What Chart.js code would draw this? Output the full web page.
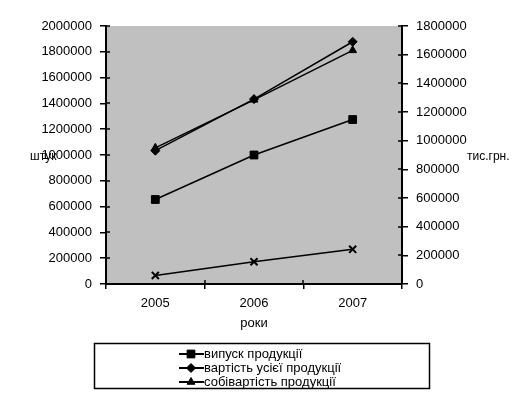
<!DOCTYPE html>
<html>
<head>
<meta charset="utf-8">
<script src="https://cdn.jsdelivr.net/npm/chart.js@4/dist/chart.umd.min.js"></script>
<style>
  body { margin: 0; background: #fff; }
  #wrap { width: 521px; height: 396px; }
</style>
</head>
<body>
<div id="wrap"><canvas id="myChart" width="521" height="396"></canvas></div>
<script>
// роки
const years = ['2005', '2006', '2007']
// штук (ліва вісь)
const output = [655000, 1000000, 1275000]
// тис.грн. (права вісь)
const totalValue = [930000, 1290000, 1690000]
const costValue = [950000, 1285000, 1630000]
const fourthSeries = [60000, 155000, 242000]

const seriesNames = ['випуск продукції', 'вартість усієї продукції', 'собівартість продукції', 'ряд 4']
const leftTitle = 'штук'
const rightTitle = 'тис.грн.'
const xTitle = 'роки'

const FONT = 'Liberation Sans, Arial, sans-serif'
Chart.defaults.font.family = FONT
Chart.defaults.font.size = 13
Chart.defaults.color = '#000'

function line(label, data, axis, style, r) {
  return {
    label: label,
    data: data,
    yAxisID: axis,
    borderColor: '#000',
    backgroundColor: '#000',
    borderWidth: 1.5,
    pointStyle: style,
    pointRadius: r,
    pointBorderWidth: style == 'crossRot' ? 2 : 1,
    tension: 0
  }
}

// gray plot area
const plotBg = {
  id: 'plotBg',
  beforeDraw(chart) {
    const a = chart.chartArea
    const ctx = chart.ctx
    ctx.save()
    ctx.fillStyle = '#c0c0c0'
    ctx.fillRect(a.left, a.top, a.right - a.left, a.bottom - a.top)
    ctx.restore()
  }
}

// inner half of the cross tick marks + horizontal axis titles + legend box
const extras = {
  id: 'extras',
  afterDraw(chart) {
    const ctx = chart.ctx
    const a = chart.chartArea
    ctx.save()
    ctx.strokeStyle = '#000'
    ctx.lineWidth = 1.5
    const yl = chart.scales.y, yr = chart.scales.y1, x = chart.scales.x
    ctx.beginPath()
    yl.ticks.forEach((t, i) => {
      const p = Math.round(yl.getPixelForTick(i))
      ctx.moveTo(a.left, p); ctx.lineTo(a.left + 4, p)
    })
    yr.ticks.forEach((t, i) => {
      const p = Math.round(yr.getPixelForTick(i))
      ctx.moveTo(a.right, p); ctx.lineTo(a.right - 4, p)
    })
    for (let i = 0; i <= years.length; i++) {
      const p = Math.round(x.getPixelForValue(i - 0.5))
      ctx.moveTo(p, a.bottom); ctx.lineTo(p, a.bottom - 4)
    }
    ctx.stroke()

    ctx.fillStyle = '#000'
    ctx.font = '12px ' + FONT
    ctx.textBaseline = 'middle'
    ctx.textAlign = 'left'
    ctx.fillText(leftTitle, 30, 157)
    ctx.fillText(rightTitle, 467, 157)

    // legend
    ctx.font = '13px ' + FONT
    ctx.lineWidth = 1.5
    ctx.strokeRect(94.5, 343.5, 335, 45)
    for (let i = 0; i < 3; i++) {
      const ds = chart.data.datasets[i]
      const y = 354 + i * 14
      ctx.beginPath()
      ctx.lineWidth = 2
      ctx.moveTo(179, y); ctx.lineTo(204, y)
      ctx.stroke()
      ctx.lineWidth = 1
      Chart.helpers.drawPoint(ctx, { pointStyle: ds.pointStyle, radius: ds.pointRadius, borderWidth: 1, rotation: 0 }, 191, y)
      ctx.fillText(ds.label, 204, y)
    }
    ctx.restore()
  }
}

const plain = v => String(v)

new Chart(document.getElementById('myChart').getContext('2d'), {
  type: 'line',
  data: {
    labels: years,
    datasets: [
      line(seriesNames[0], output, 'y', 'rect', 5.5),
      line(seriesNames[1], totalValue, 'y1', 'rectRot', 4.5),
      line(seriesNames[2], costValue, 'y1', 'triangle', 4.5),
      line(seriesNames[3], fourthSeries, 'y1', 'crossRot', 5)
    ]
  },
  options: {
    responsive: false,
    animation: false,
    layout: { padding: { top: 26, bottom: 61, left: 0, right: 0 } },
    plugins: { legend: { display: false }, tooltip: { enabled: false } },
    scales: {
      x: {
        offset: true,
        grid: { offset: true, drawOnChartArea: false, color: '#000', lineWidth: 1.5, tickLength: 5 },
        border: { color: '#000', width: 2 },
        ticks: { padding: 7, maxRotation: 0 },
        title: { display: true, text: xTitle, padding: { top: 0, bottom: 4 } },
        afterFit(s) { s.height = 51 }
      },
      y: {
        position: 'left',
        min: 0, max: 2000000,
        ticks: { stepSize: 200000, padding: 8, callback: plain },
        grid: { drawOnChartArea: false, color: '#000', lineWidth: 1.5, tickLength: 6 },
        border: { color: '#000', width: 2 },
        afterFit(s) { s.width = 106 }
      },
      y1: {
        position: 'right',
        min: 0, max: 1800000,
        ticks: { stepSize: 200000, padding: 8, callback: plain },
        grid: { drawOnChartArea: false, color: '#000', lineWidth: 1.5, tickLength: 6 },
        border: { color: '#000', width: 2 },
        afterFit(s) { s.width = 119 }
      }
    }
  },
  plugins: [plotBg, extras]
})
</script>
</body>
</html>
